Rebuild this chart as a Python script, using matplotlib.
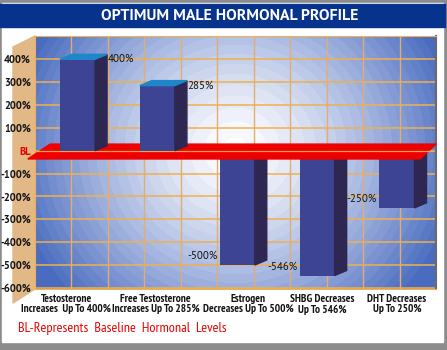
import numpy as np
import matplotlib
matplotlib.use("Agg")
import matplotlib.pyplot as plt
from matplotlib import font_manager
from matplotlib.patches import Polygon, Rectangle
from matplotlib.colors import to_rgb
from matplotlib.transforms import blended_transform_factory

# 데이터
categories = ["Testosterone\nIncreases  Up To 400%",
              "Free Testosterone\nIncreases Up To 285%",
              "Estrogen\nDecreases Up To 500%",
              "SHBG Decreases\nUp To 546%",
              "DHT Decreases\nUp To 250%"]
values = [400, 285, -500, -546, -250]
value_labels = ["400%", "285%", "-500%", "-546%", "-250%"]
ytick_vals = [400, 300, 200, 100, 0, -100, -200, -300, -400, -500, -600]
ytick_labels = ["400%", "300%", "200%", "100%", "BL", "-100%", "-200%",
                "-300%", "-400%", "-500%", "-600%"]

# 카테고리 레이블 위치 보정 (막대 중심 대비)
label_shift = [-0.14, -0.02, 0.14, 0.06, 0.0]


def pick_font(names):
    for n in names:
        try:
            font_manager.findfont(n, fallback_to_default=False)
            return n
        except Exception:
            pass
    return "DejaVu Sans"


narrow = pick_font(["PT Sans Narrow", "Roboto Condensed", "Open Sans Condensed", "Roboto"])
myriad = pick_font(["PT Sans", "Roboto"])
plt.rcParams['font.family'] = [myriad, 'DejaVu Sans']

W, H = 447, 350
fig = plt.figure(figsize=(W / 100, H / 100), dpi=100)

# ===== 배경 (픽셀 좌표) =====
bg = fig.add_axes([0, 0, 1, 1])
bg.set_xlim(0, W)
bg.set_ylim(H, 0)
bg.axis('off')
bg.add_patch(Rectangle((0, 0), W, H, color='#8c8c8c'))
bg.add_patch(Rectangle((2, 3), 441, 339, color='white'))
bg.add_patch(Rectangle((0, 4), 445, 23, color='#07338c'))
# 왼쪽 측면 벽
bg.add_patch(Polygon([(13, 47), (35, 36), (35, 289), (13, 303)],
                     closed=True, color='#e2b886'))
bg.text(230, 16, "OPTIMUM MALE HORMONAL PROFILE", color='white',
        fontsize=11.3, fontweight='bold', ha='center', va='center')
bg.text(18, 328.5, "BL-Represents  Baseline  Hormonal  Levels", color='#e80000',
        fontsize=10.2, ha='left', va='center', family=[narrow, 'DejaVu Sans'])

# ===== 메인 차트 =====
px_l, px_r, px_t, px_b = 35, 436, 36, 289
ax = fig.add_axes([px_l / W, (H - px_b) / H, (px_r - px_l) / W, (px_b - px_t) / H])
xlim = (-0.532, 4.489)
ylim = (-605, 502)
ax.set_xlim(*xlim)
ax.set_ylim(*ylim)

# 방사형 그라데이션
nx, ny = px_r - px_l, px_b - px_t
gx, gy = np.meshgrid(np.arange(nx), np.arange(ny))
r = np.hypot(gx - 200, (gy - 114) * 1.05) / 225
t = np.clip(r, 0, 1) ** 1.35
t = np.round(t * 22) / 22
edge = np.array(to_rgb('#4a6cc0'))
img = (1 - t[..., None]) * np.ones(3) + t[..., None] * edge
ax.imshow(img, extent=(xlim[0], xlim[1], ylim[0], ylim[1]), aspect='auto',
          origin='upper', zorder=0)

# 격자선
for yv in range(-600, 600, 100):
    ax.axhline(yv, color='#f0b04c', lw=1.1, zorder=1)
for xv in np.linspace(xlim[0], xlim[1], 12)[1:-1]:
    ax.axvline(xv, color='#e2ad72', lw=1.0, zorder=1)

for side in ['top', 'left', 'bottom']:
    ax.spines[side].set_color('#f0b04c')
ax.spines['right'].set_color('#6a6a6a')
ax.spines['right'].set_linewidth(1.5)

# 3D 막대
x = np.arange(len(values))
bw = 0.44
dx = 12 / 79.85            # 깊이 (x 단위)
dy = 5 / (253 / (ylim[1] - ylim[0]))   # 깊이 (y 단위)
front_c, side_c, top_c = '#3d4494', '#2e2752', '#1f86c9'

for xi, v in zip(x, values):
    z = 5 if v > 0 else 2
    ax.bar(xi, v, width=bw, color=front_c, zorder=z)
    x1 = xi + bw / 2
    x0 = xi - bw / 2
    ax.add_patch(Polygon([(x1, 0), (x1 + dx, dy), (x1 + dx, v + dy), (x1, v)],
                         closed=True, color=side_c, zorder=z))
    if v > 0:
        ax.add_patch(Polygon([(x0, v), (x0 + dx, v + dy), (x1 + dx, v + dy), (x1, v)],
                             closed=True, color=top_c, zorder=z))

# 빨간 기준면 (BL)
red_y0, red_y1 = -36, 29
ax.add_patch(Polygon([(xlim[0] - 0.09, red_y0), (xlim[0] + 0.19, red_y1),
                      (xlim[1], red_y1), (xlim[1] - 0.2, red_y0)],
                     closed=True, color='#ee0000', zorder=4, clip_on=False))
ax.plot([xlim[0], xlim[1] - 0.04], [0, 0], color='#f3a24a', lw=0.9,
        zorder=4.5, clip_on=False)

# 값 레이블
for xi, v, lab in zip(x, values, value_labels):
    if v > 0:
        ax.text(xi + bw / 2 + dx + 0.01, v, lab, fontsize=7.8, color='#141414',
                ha='left', va='center', zorder=6)
    else:
        ax.text(xi - bw / 2 - 0.03, v + 40, lab, fontsize=7.8, color='#141414',
                ha='right', va='center', zorder=6)

# 축
ax.set_yticks(ytick_vals)
ax.set_yticklabels(ytick_labels, fontsize=7.6, fontweight='bold', color='#141414')
ax.get_yticklabels()[4].set_color('#e80000')
ax.tick_params(axis='y', length=0, pad=3)
ax.set_xticks([])

# 카테고리 레이블
trans = blended_transform_factory(ax.transData, fig.transFigure)
for xi, s, lab in zip(x, label_shift, categories):
    ax.text(xi + s, 1 - 294.5 / H, lab, transform=trans, ha='center', va='top',
            fontsize=8.1, fontweight='bold', color='#141414', linespacing=1.0,
            family=[narrow, 'DejaVu Sans'])

fig.savefig('out.png', dpi=100)
